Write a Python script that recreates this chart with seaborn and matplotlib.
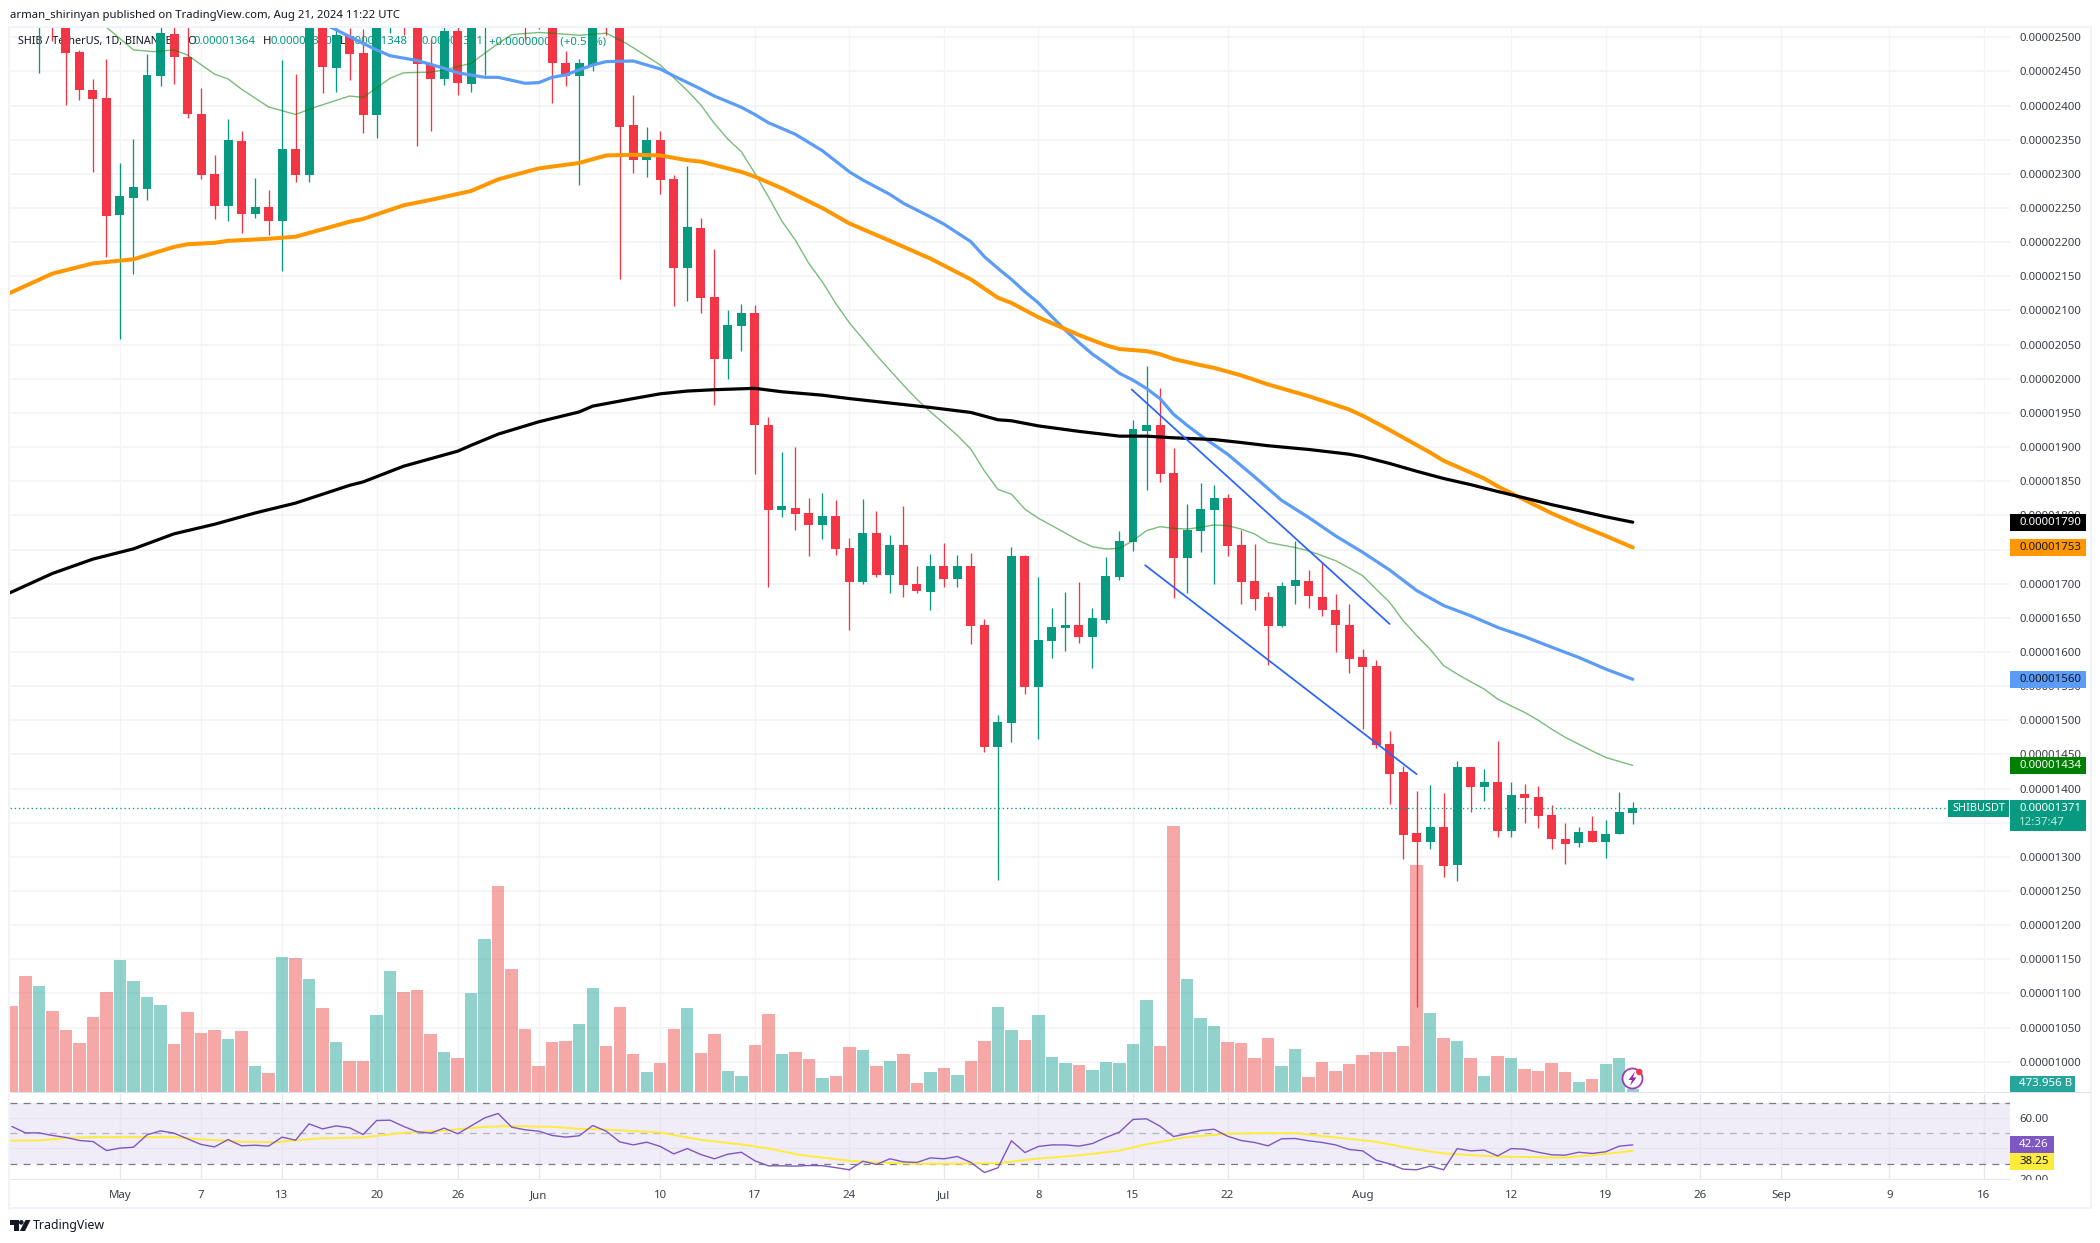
import matplotlib
matplotlib.use("Agg")
import matplotlib.pyplot as plt
from matplotlib.patches import Rectangle, Circle, Polygon
import numpy as np
import pandas as pd
import seaborn as sns

W, H = 2100, 1243
FONT = ["Noto Sans", "DejaVu Sans"]

# Prices are in units of 0.00000001 USDT; days count from 1 May 2024.
first_day = -8
opens = [2560,2570,2530,2570,2520,2479,2423,2411,2240,2265,2278,2443,2505,2471,2388,2300,2253,2348,2241,2251,2231,2336,2298,2520,2455,2502,2477,2386,2530,2570,2530,2461,2439,2509,2432,2520,2570,2560,2560,2560,2530,2462,2443,2459.5,2560,2530,2371.6,2320,2349.6,2292.5,2162,2220.7,2119.6,2028.8,2077,2096,1933,1808,1811,1804,1786,1799.6,1752.7,1703,1774.7,1712,1756,1700,1688,1726,1707,1726,1640,1461,1496.4,1741,1549,1616.5,1635.5,1640,1622,1647.3,1710,1761.5,1924,1933,1862.6,1738,1777.6,1808,1826,1757,1704,1681,1638.5,1696,1703.5,1681,1662,1640,1593,1580,1465.6,1424.6,1335,1322,1344,1288,1432,1403,1410,1338,1392.5,1388,1361.5,1326,1321,1338,1322,1334,1364]
highs = [2590,2600,2590,2590,2540,2482,2439,2468,2316,2351,2475.6,2530,2525,2515,2426,2328,2380,2363,2294,2276,2467,2446,2540,2540,2520,2513,2512,2545,2575,2590,2550,2497,2525,2520,2540,2575,2590,2580,2580,2580,2550,2480,2468,2540,2580,2545,2415.5,2368.7,2363,2298,2311.5,2235,2190,2100.6,2109,2108,1944.6,1893,1900.7,1826,1833,1823,1767,1824.5,1807,1772,1814,1726,1744,1760,1742.5,1745.4,1648.7,1508,1754,1742.5,1710,1665,1688,1703,1665,1739.6,1777.6,1939,2018.5,1986,1898,1817,1848,1845,1832,1779,1758,1688,1703,1763,1720,1732,1685,1670.7,1604.8,1588.6,1484.7,1433.4,1396.4,1405,1394,1441,1432,1429,1469,1410,1407,1404,1376,1350,1344,1360,1354,1395,1380]
lows = [2520,2520,2448,2494,2401,2408,2303,2178,2058,2153,2262,2429,2432,2382,2292,2234,2231,2213,2235,2210,2158,2288,2288,2418,2420,2437,2360,2352,2506,2503,2341,2363,2430,2415,2420,2445,2520,2520,2496,2512,2404,2429,2284,2451,2503,2146,2301,2295.4,2270.5,2106,2114,2096.6,1961,1999.5,2040.5,1860,1695.6,1797,1779,1741,1766,1742.5,1632.6,1700,1710,1687,1681,1687,1662,1695.6,1695.6,1612,1454,1266,1468.6,1539,1473,1591.6,1602,1613.6,1577,1643,1706,1748,1837.7,1849.4,1679.5,1687,1746.9,1700,1741,1670.7,1662,1581,1637,1670.7,1665,1652,1600,1569.6,1487.6,1460,1377.7,1297,1080,1312,1271,1265,1366,1382,1329,1329,1350,1342.6,1312,1290,1315,1322,1299,1333,1348]
closes = [2540,2530,2570,2520,2477.5,2423,2410,2238,2268,2281,2445,2506,2471,2388,2298,2253,2350,2241,2251,2231,2336,2298,2520,2456.5,2503,2476,2386,2530,2560,2530,2461,2439,2509,2433,2520,2560,2530,2530,2530,2530,2462.4,2443,2462,2520,2530,2368.7,2320,2349.6,2291,2162,2222,2118,2028.8,2078.6,2096,1932,1808,1813,1802.5,1786,1799.6,1751,1703,1774.7,1713,1757,1698.5,1689.8,1726,1707,1726,1638.5,1461,1498,1741,1549,1618,1637,1640,1622,1650,1711.7,1763,1927,1933,1861,1738,1779,1810,1826,1755.6,1703,1678,1638.5,1696,1705,1681.5,1661,1640,1590,1578,1464,1421.6,1332,1322,1344,1287,1432,1403,1410,1338,1391,1386.6,1360,1326,1319,1337,1322,1334,1366,1371]

# Volume in chart-read units of about 52.7 billion SHIB
volumes = [259,349,319,244,187,148,226,301,397,334,286,262,145,241,178,187,160,184,79,58,406,403,340,253,151,94,94,232,364,301,307,175,121,103,298,460,619,370,190,79,151,154,205,313,139,256,115,61,88,190,253,118,175,64,49,142,235,115,121,100,43,49,136,127,79,94,115,28,61,73,52,94,154,256,187,157,232,106,88,82,67,91,88,145,277,139,799,340,223,199,151,148,103,163,79,130,46,91,64,85,112,121,121,139,682,238,163,154,103,49,109,103,70,64,88,61,31,40,85,103,9]

ema200_days = [-9,-8,-5,-2,1,4,7,10,13,17,18,21,25,26,28,31,34,35,38,40,42,44,47,49,52,54,60,63,65,66,68,71,73,74,76,78,81,83,85,88,91,92,94,96,98,100,102,104,106,108,110,112]
ema200_vals = [1680,1688,1715,1736,1751,1773,1787,1803.5,1818,1844,1849,1872,1894,1902.6,1919,1937,1951.5,1960,1971,1978,1982,1984,1986,1981,1976,1971,1958,1950.7,1940,1938.5,1931,1923,1918.4,1916,1916,1913.6,1911,1906.7,1902,1896.5,1889.6,1886,1876,1864.6,1854,1845,1835,1825.5,1815.7,1807,1798,1790]

ema100_days = [-9,-8,-5,-2,1,4,5,7,8,11,13,17,18,21,23,26,28,31,34,36,38,40,42,43,46,47,49,52,54,57,60,63,65,66,68,71,73,74,76,77,78,80,81,83,85,88,91,92,94,97,98,101,102,104,106,108,110,112]
ema100_vals = [2118,2127,2154,2169,2175,2193,2197,2199,2202,2205,2208,2230,2234,2254,2262,2275,2292,2308,2316,2327,2328,2327,2320,2318,2303,2296,2279,2250,2227.5,2202,2176,2145.5,2118.6,2111,2090,2064,2049,2043.5,2040.5,2036,2029,2020,2016,2005,1991.7,1974.6,1955,1946,1925,1892,1880,1854,1842.6,1822.6,1803,1786,1770,1753]

ema50_days = [14,16,18,19,20,22,24,25,27,28,30,31,32,33,35,36,38,40,41,43,44,45,46,47,48,50,52,54,55,57,58,60,61,63,64,65,66,67,68,69,70,71,72,73,74,75,76,77,78,79,80,82,84,86,88,90,91,92,94,96,98,100,102,104,106,108,110,112]
ema50_vals = [2530,2511,2491,2481.5,2473,2466,2454.6,2448,2441.4,2441.4,2432.6,2433.6,2441.4,2445,2459.5,2464.4,2465.3,2453.6,2443.4,2424.3,2414,2405.8,2397.5,2387,2375,2358,2334,2303,2291,2270,2257,2237,2226.5,2200.7,2178.7,2161.6,2145.5,2127.4,2111,2090.8,2071,2053,2036,2022.4,2008,1998,1985.8,1971,1948,1932,1917,1889.6,1856.4,1822,1797,1770,1758,1746,1720,1690,1668,1653,1636,1622.4,1607,1592,1575,1560]

ema20_days = [-2,-1,1,2.5,4,5,7,8,9,11,13,14.5,17,18,20,21,23,24,26,28,29,31,32,34,36,37.5,40,42,43,44,45,46,47,48,49,50,51,52,53,54,56,57,58,59,60,61,62,63,64,65,66,67,68,69,70,71,72,73,74,75,76,77,78,79,80,81,82,83,84,85,86,87,88,89,90,91,92,93,94,95,96,97,98,99,100,101,102,103,104,105,106,107,108,109,110,111,112]
ema20_vals = [2530,2514.6,2481.5,2479,2481.5,2474,2446,2439,2424,2398,2387,2398,2414,2412,2440,2448,2449,2452,2462,2491,2504,2507,2506,2503,2506,2491,2459.5,2422,2401,2374,2351,2332.5,2301,2266.6,2231,2203,2169,2142,2110,2082,2034.7,2012.7,1990.7,1970,1951.6,1934.6,1917,1897,1865,1838,1831,1809,1795.7,1785,1774,1763,1754,1750.8,1751.8,1763,1777.6,1783.5,1781,1780,1782.5,1786,1785,1780,1772.8,1760.5,1756.6,1753,1748,1741,1733.7,1723,1711.7,1692,1672.7,1646,1624,1604,1580,1567.7,1556.5,1545.7,1531,1521,1511.5,1500,1487,1475,1465,1455,1445.6,1439.7,1434]

channel_upper_days, channel_upper_vals = [74.9, 94], [1984.4, 1641]
channel_lower_days, channel_lower_vals = [75.9, 96], [1727, 1421]

rsi = [54.4,50.2,50.2,48.5,47.2,45.2,44.5,38.6,40.2,40.8,48.9,51.5,50,46.3,42.6,41,45.8,41.7,42.1,41.5,47.4,45.4,56.1,52.8,54.8,53.5,49.1,58.3,58.5,54.4,50.9,50,53.3,49.6,54.8,60,62.9,53.9,52.2,51.3,48.5,47.4,48.3,55,51.3,44.3,42.3,44.1,41.3,36.4,39.9,36,33.2,36.2,37.5,31.9,28.6,28.6,28.4,28.8,28.7,27.4,26,31.6,29.5,33.2,31.2,30.8,33.8,33.2,34.7,30.8,24.2,27.3,45,37.3,41.3,42.3,42.3,41.5,43.2,47.2,50.7,59,59.4,54.6,47.8,49.6,51.7,52.6,48,45.2,43.9,41.7,46.3,46.5,45,43.9,42.3,39.3,38.4,32.3,29.9,26.4,26,28.4,26,39.9,38.4,38.9,35.1,39.9,39.5,37.5,35.8,35.6,37.5,36.7,37.8,41.5,42.3]
rsi_ma_days = [-9,-6,-4,-2,1.3,4,6.2,8.9,11.5,14.6,18,21,24,27,29,32,34,36,40,43,46,48,50.3,54,56,59,61,65,68,71,74,76,79,82,84,87,90,93,96,98,101,103,107,110,112]
rsi_ma_vals = [45.2,45.2,46.8,47.4,47.4,47.4,45.9,44.4,44.1,46.5,47.2,50.2,51.7,54.2,54.6,54.2,52.8,52.4,50.4,45.6,42.6,40,35.8,31.9,30.8,29.9,29.9,30.3,33.4,35.4,38.6,42.6,47.4,49.6,50,50,47.2,44.3,39.3,36.7,35.1,34.5,34,36.4,38.4]

price_ticks = list(range(1000, 2501, 50))
rsi_ticks = [60, 40, 20]
time_ticks = [0, 6, 12, 19, 25, 31, 40, 47, 54, 61, 68, 75, 82, 92, 103, 110, 117, 123, 131, 138]
time_labels = ["May","7","13","20","26","Jun","10","17","24","Jul","8","15","22","Aug","12","19","26","Sep","9","16"]

GREEN, RED = "#089981", "#F23645"
VOL_GREEN, VOL_RED = "#26A69A", "#EF5350"
GRID = "#F3F4F7"
INK = "#131722"
LABEL = "#3A3E4A"

days = np.arange(first_day, first_day + len(opens))
df = pd.DataFrame({"day": days, "open": opens, "high": highs, "low": lows, "close": closes,
                   "volume": volumes, "rsi": rsi})
df["dir"] = np.where(df["close"] >= df["open"], "up", "down")

sns.set_theme(style="white")
plt.rcParams["font.family"] = FONT

fig = plt.figure(figsize=(W / 100, H / 100), dpi=100, facecolor="white")

def pane(x0, y0, x1, y1, **kw):
    return fig.add_axes([x0 / W, 1 - y1 / H, (x1 - x0) / W, (y1 - y0) / H], **kw)

XLIM = (-8.18, 139.93)
YLIM = (955, 2513.6)

ax_bg = pane(9.5, 28, 2010, 1092.5)
ax_vol = pane(9.5, 28, 2010, 1092.5)
ax = pane(9.5, 28, 2010, 1092.5)
ax_rsi = pane(9.5, 1093.5, 2010, 1180)

# Background grid
ax_bg.set_xlim(XLIM); ax_bg.set_ylim(YLIM)
ax_bg.set_xticks(time_ticks); ax_bg.set_yticks(price_ticks)
ax_bg.grid(True, color=GRID, lw=1.3, axis="y")
ax_bg.grid(True, color=GRID, lw=0.9, axis="x")
ax_bg.tick_params(left=False, bottom=False, labelleft=False, labelbottom=False)
ax_bg.set_zorder(0)

# Volume
sns.barplot(data=df, x="day", y="volume", hue="dir", palette={"up": VOL_GREEN, "down": VOL_RED},
            dodge=False, native_scale=True, width=0.92, alpha=0.5, saturation=1, errorbar=None,
            legend=False, linewidth=0, ax=ax_vol)
ax_vol.set_xlim(XLIM); ax_vol.set_ylim(0, 3193)
ax_vol.set_zorder(1); ax_vol.patch.set_visible(False)
ax_vol.set_xlabel(""); ax_vol.set_ylabel("")
ax_vol.tick_params(left=False, bottom=False, labelleft=False, labelbottom=False)

# Legend text sits beneath the candles
ax.set_zorder(2); ax.patch.set_visible(False)
ax.set_xlim(XLIM); ax.set_ylim(YLIM)
tf = fig.transFigure
def axtxt(x, y, s, color, size=8.25):
    ax.text(x / W, 1 - y / H, s, transform=tf, color=color, va="center", fontsize=size, zorder=1, clip_on=False)
axtxt(18, 41.5, "SHIB / TetherUS, 1D, BINANCE", INK, size=7.8)
for px, lab, px2, val in [(187, "O", 194, "0.00001364"), (263, "H", 270.5, "0.00001380"),
                          (340, "L", 346, "0.00001348"), (414, "C", 421.5, "0.00001371")]:
    axtxt(px, 41.5, lab, INK)
    axtxt(px2, 41.5, val, GREEN)
axtxt(489, 41.5, "+0.00000007 (+0.51%)", GREEN)

# Moving averages and channel
def line(a, xs, ys, color, lw, z=3, alpha=1.0, cap="round"):
    sns.lineplot(x=xs, y=ys, ax=a, color=color, linewidth=lw, alpha=alpha, sort=False,
                 estimator=None, errorbar=None, legend=False, zorder=z, solid_capstyle=cap)

# Candles
for sign, color in [("up", GREEN), ("down", RED)]:
    sub = df[df["dir"] == sign]
    ax.vlines(sub["day"], sub["low"], sub["high"], color=color, lw=0.95, zorder=4)
    ax.bar(sub["day"], (sub["close"] - sub["open"]).abs().clip(lower=1),
           bottom=sub[["open", "close"]].min(axis=1), width=0.665, color=color, linewidth=0, zorder=5)

line(ax, ema20_days, ema20_vals, "#008000", 1.0, z=6, alpha=0.52)
line(ax, ema50_days, ema50_vals, "#5B9CF6", 2.3, z=6)
line(ax, ema100_days, ema100_vals, "#FF9800", 2.9, z=6)
line(ax, ema200_days, ema200_vals, "#000000", 2.3, z=6)
line(ax, channel_upper_days, channel_upper_vals, "#2962FF", 1.25, z=7)
line(ax, channel_lower_days, channel_lower_vals, "#2962FF", 1.25, z=7)

# Last price line
ax.axhline(closes[-1], color=GREEN, lw=0.95, ls=(0, (1, 2.2)), zorder=7)

ax.set_xticks(time_ticks); ax.set_yticks(price_ticks)
ax.set_yticklabels([f"{p / 1e8:.8f}" for p in price_ticks])
ax.yaxis.tick_right()
ax.tick_params(axis="y", length=0, pad=6.5, labelsize=8.25, labelcolor=LABEL)
ax.tick_params(axis="x", length=0, labelbottom=False)
ax.set_xlabel(""); ax.set_ylabel("")
for a in (ax, ax_bg, ax_vol):
    for s in a.spines.values():
        s.set_visible(False)

# RSI pane
ax_rsi.set_xlim(XLIM); ax_rsi.set_ylim(19.3, 76.0)
ax_rsi.axhspan(30, 70, color="#7E57C2", alpha=0.11, lw=0, zorder=1)
ax_rsi.set_xticks(time_ticks); ax_rsi.set_yticks(rsi_ticks)
ax_rsi.set_xticklabels(time_labels)
ax_rsi.set_yticklabels([f"{v:.2f}" for v in rsi_ticks])
ax_rsi.grid(True, color="#E6E6EE", lw=0.9, zorder=2)
ax_rsi.set_axisbelow(False)
ax_rsi.yaxis.tick_right()
ax_rsi.tick_params(axis="y", length=0, pad=6.5, labelsize=8.25, labelcolor=LABEL)
ax_rsi.tick_params(axis="x", length=0, pad=7.5, labelsize=8.25, labelcolor=LABEL)
for s in ax_rsi.spines.values():
    s.set_visible(False)
for v, al in [(70, 1.0), (50, 0.5), (30, 1.0)]:
    ax_rsi.axhline(v, color="#787B86", lw=0.9, ls=(0, (5.5, 5)), alpha=al, zorder=3)
line(ax_rsi, rsi_ma_days, rsi_ma_vals, "#FFEB3B", 1.4, z=4)
line(ax_rsi, df["day"], df["rsi"], "#7E57C2", 1.0, z=5)
ax_rsi.set_xlabel(""); ax_rsi.set_ylabel("")

# Overlay in pixel coordinates for frame, price tags, logo
ov = fig.add_axes([0, 0, 1, 1], zorder=10)
ov.set_xlim(0, W); ov.set_ylim(H, 0); ov.axis("off"); ov.patch.set_visible(False)

FRAME = "#F0F3FA"
ov.add_patch(Rectangle((8, 26.5), 1.6, 1183, color=FRAME, lw=0))
ov.add_patch(Rectangle((8, 26), 2084, 2, color=FRAME, lw=0))
ov.add_patch(Rectangle((2089.5, 26), 2, 1183, color=FRAME, lw=0))
ov.add_patch(Rectangle((8, 1207), 2084, 2.2, color=FRAME, lw=0))
ov.add_patch(Rectangle((9.5, 1091.8), 2080, 1.4, color="#E0E3EB", lw=0))

# Hide part of the "20.00" label below the pane, as in the reference
ov.add_patch(Rectangle((2011, 1180), 70, 14, color="white", lw=0))

def y_of(a, v):
    return H - a.transData.transform((0, v))[1]

def tag(a, val, color, fg, text, right=2085.7, h=17):
    y = y_of(a, val)
    ov.add_patch(Rectangle((2010, y - h / 2), right - 2010, h, color=color, lw=0))
    ov.text(2019, y, text, color=fg, fontsize=8.25, va="center", ha="left", fontweight="medium")

fig.canvas.draw()
tag(ax, 1790, "#000000", "white", "0.00001790")
tag(ax, 1753, "#FF9800", INK, "0.00001753")
tag(ax, 1560, "#5B9CF6", INK, "0.00001560")
tag(ax, 1434, "#008000", "white", "0.00001434")

y_last = y_of(ax, closes[-1])
ov.add_patch(Rectangle((2010, y_last - 8.5), 75.7, 31, color=GREEN, lw=0))
ov.text(2019, y_last, "0.00001371", color="white", fontsize=8.25, va="center", fontweight="medium")
ov.text(2019, y_last + 14.5, "12:37:47", color="#C5E6E0", fontsize=8.25, va="center")
ov.add_patch(Rectangle((1948, y_last - 8.5), 61, 17, color=GREEN, lw=0))
ov.text(1978.5, y_last, "SHIBUSDT", color="white", fontsize=7.9, va="center", ha="center")

ov.add_patch(Rectangle((2010, 1076), 65, 16, color="#26A69A", lw=0))
ov.text(2019, 1084, "473.956 B", color="white", fontsize=8.25, va="center", fontweight="medium")
ov.add_patch(Rectangle((2010, 1136), 44, 17, color="#7E57C2", lw=0))
ov.text(2019, 1144.5, "42.26", color="white", fontsize=8.25, va="center", fontweight="medium")
ov.add_patch(Rectangle((2010, 1153), 44, 17, color="#FFEB3B", lw=0))
ov.text(2019, 1161.5, "38.25", color=INK, fontsize=8.25, va="center")

# Lightning badge on the last bar
ov.add_patch(Circle((1632.5, 1078.5), 10, facecolor="white", edgecolor="#9C27B0", lw=1.3, alpha=0.9))
ov.add_patch(Polygon([(1635, 1071.5), (1628.5, 1080), (1632, 1080), (1630, 1086), (1636.5, 1077.5), (1633, 1077.5)],
                     closed=True, color="#9C27B0", lw=0))
ov.add_patch(Circle((1639.3, 1072), 3.2, color="#F23645", lw=0))

# Header and footer
ov.text(10, 15, "arman_shirinyan published on TradingView.com, Aug 21, 2024 11:22 UTC",
        color=INK, fontsize=8.15, va="center")
ov.add_patch(Polygon([(10, 1220), (19, 1220), (19, 1231), (14.3, 1231), (14.3, 1224.8), (10, 1224.8)], closed=True, color=INK, lw=0))
ov.add_patch(Circle((21.3, 1222.4), 2.3, color=INK, lw=0))
ov.add_patch(Polygon([(25.5, 1220), (30.5, 1220), (25, 1231), (19.8, 1231)], closed=True, color=INK, lw=0))
ov.text(33, 1225.5, "TradingView", color=INK, fontsize=8.9, va="center")

fig.savefig("out.png", dpi=100, facecolor="white")
